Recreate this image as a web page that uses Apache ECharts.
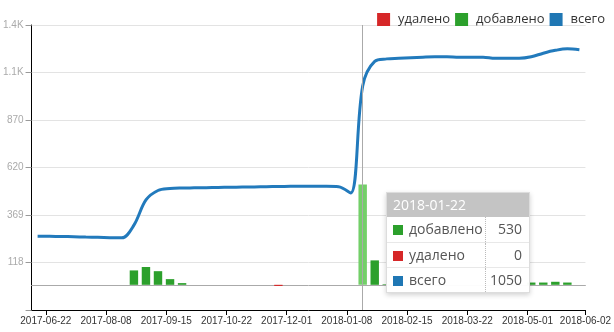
<!DOCTYPE html>
<html>
<head>
<meta charset="utf-8">
<script src="https://cdn.jsdelivr.net/npm/echarts@6/dist/echarts.min.js"></script>
<style>
html,body{margin:0;padding:0;background:#fff;}
#chart{width:614px;height:332px;}
</style>
</head>
<body>
<div id="chart"></div>
<script>
// ---- data ----
const categories = [
  '2017-07-17','2017-07-24','2017-07-31','2017-08-07','2017-08-14','2017-08-21','2017-08-28','2017-09-04',
  '2017-09-11','2017-09-18','2017-09-25','2017-10-02','2017-10-09','2017-10-16','2017-10-23','2017-10-30',
  '2017-11-06','2017-11-13','2017-11-20','2017-11-27','2017-12-04','2017-12-11','2017-12-18','2017-12-25',
  '2018-01-01','2018-01-08','2018-01-15','2018-01-22','2018-01-29','2018-02-05','2018-02-12','2018-02-19',
  '2018-02-26','2018-03-05','2018-03-12','2018-03-19','2018-03-26','2018-04-02','2018-04-09','2018-04-16',
  '2018-04-23','2018-04-30','2018-05-07','2018-05-14','2018-05-21','2018-05-28'
];
const added = [
  0,0,0,0,0,0,0,0,
  76,94,72,30,9,0,0,0,
  0,0,0,0,0,0,0,0,
  0,0,0,530,129,3,0,0,
  0,0,0,0,0,0,0,0,
  0,12,12,16,12,0
];
const removed = [
  0,0,0,0,0,0,0,0,
  0,0,0,0,0,0,0,0,
  0,0,0,0,-6,0,0,0,
  0,0,0,0,0,0,0,0,
  0,0,0,0,0,0,0,0,
  0,0,0,0,0,0
];
const total = [
  257,256,255,254,252,251,249,248,
  315,448,498,508,511,512,513,514,
  515,516,517,518,519,520,521,520,
  520,518,485,1050,1180,1193,1196,1199,
  1202,1204,1204,1202,1202,1202,1196,1196,
  1196,1204,1223,1238,1246,1241
];
const yTickLabels = ['', '118', '369', '620', '870', '1.1K', '1.4K'];
const xTickLabels = ['2017-06-22','2017-08-08','2017-09-15','2017-10-22','2017-12-01',
                     '2018-01-08','2018-02-15','2018-03-22','2018-05-01','2018-06-02'];
const hoverIndex = 27;

// ---- chart ----
const yMin = -133, yStep = 250.8, yMax = yMin + 6 * yStep;
const tMin = -1.186, tMax = 44.814;
const cAdded = '#2ca02c', cAddedHover = '#69bd5f', cRemoved = '#d62728', cTotal = '#1f77b4', cTotalLine = '#1f6fab';

const chart = echarts.init(document.getElementById('chart'), null, {renderer: 'canvas'});
chart.setOption({
  animation: false,
  grid: {left: 31, right: 26, top: 25, bottom: 22, containLabel: false},
  legend: {
    data: [
      {name: 'удалено', itemStyle: {color: cRemoved}},
      {name: 'добавлено', itemStyle: {color: cAdded}},
      {name: 'всего', itemStyle: {color: cTotal}, lineStyle: {opacity: 0}}
    ],
    right: 4, top: 8,
    icon: 'rect', itemWidth: 13, itemHeight: 13, itemGap: 5,
    textStyle: {fontFamily: 'Open Sans', fontSize: 13, color: '#333', padding: [0, 0, 0, 3]},
    selectedMode: false
  },
  tooltip: {
    trigger: 'axis',
    alwaysShowContent: true,
    triggerOn: 'none',
    transitionDuration: 0,
    padding: 0,
    backgroundColor: 'rgba(255,255,255,0.97)',
    borderColor: '#ddd',
    borderWidth: 1,
    extraCssText: 'box-shadow:0 2px 5px rgba(0,0,0,0.18);border-radius:0;',
    textStyle: {fontFamily: 'Open Sans', fontSize: 14, color: '#555'},
    axisPointer: {type: 'line', lineStyle: {color: '#aaa', width: 1, type: 'solid'}},
    position: function () { return [386, 192]; },
    formatter: function (params) {
      const byName = {};
      params.forEach(function (p) { byName[p.seriesName] = p; });
      const rows = [['добавлено', cAdded], ['удалено', cRemoved], ['всего', cTotal]];
      let html = '<div style="width:142px;font-family:Open Sans;">' +
        '<div style="background:#c4c4c4;color:#fff;font-size:14px;height:24px;line-height:24px;padding:0 6px;">' +
        params[0].name + '</div>' +
        '<table style="border-collapse:collapse;width:142px;font-size:14px;color:#555;">';
      rows.forEach(function (r, i) {
        const p = byName[r[0]];
        const v = p ? Math.abs(p.value) : '';
        html += '<tr style="height:25px;' + (i ? 'border-top:1px solid #e8e8e8;' : '') + '">' +
          '<td style="padding:0 0 0 6px;width:92px;border-right:1px dotted #bbb;line-height:24px;">' +
          '<span style="display:inline-block;width:10px;height:10px;background:' + r[1] +
          ';margin-right:6px;vertical-align:-1px;"></span>' + r[0] + '</td>' +
          '<td style="text-align:right;padding:0 7px 0 0;line-height:24px;">' + v + '</td></tr>';
      });
      html += '</table></div>';
      return html;
    }
  },
  xAxis: [
    {
      type: 'value',
      position: 'bottom',
      min: tMin, max: tMax,
      minInterval: 5, maxInterval: 5,
      axisLine: {show: true, onZero: false, lineStyle: {color: '#000', width: 1}},
      axisTick: {show: true, length: 5, lineStyle: {color: '#000'}},
      axisLabel: {
        show: true, showMinLabel: false, showMaxLabel: true, margin: 6,
        fontFamily: 'Liberation Sans', fontSize: 10, color: '#333',
        formatter: function (v) {
          if (Math.abs(v - tMax) < 1e-6) return xTickLabels[xTickLabels.length - 1];
          const k = v / 5;
          if (Math.abs(k - Math.round(k)) < 1e-6) return xTickLabels[Math.round(k)] || '';
          return '';
        }
      },
      splitLine: {show: false},
      axisPointer: {show: false}
    },
    {
      type: 'category',
      position: 'top',
      data: categories,
      boundaryGap: true,
      axisLine: {show: true, onZero: true, lineStyle: {color: '#aaa', width: 1}},
      axisTick: {show: false},
      axisLabel: {show: false},
      splitLine: {show: false}
    }
  ],
  yAxis: {
    type: 'value',
    min: yMin, max: yMax, interval: yStep,
    axisLine: {show: true, onZero: false, lineStyle: {color: '#000', width: 1}},
    axisTick: {show: true, length: 6, lineStyle: {color: '#999'}},
    axisLabel: {
      margin: 8, fontFamily: 'Liberation Sans', fontSize: 10, color: '#aaa',
      formatter: function (v) {
        const k = Math.round((v - yMin) / yStep);
        return yTickLabels[k] || '';
      }
    },
    splitLine: {show: true, lineStyle: {color: '#e3e3e3', width: 1}},
    axisPointer: {show: false}
  },
  series: [
    {
      name: 'добавлено', type: 'bar', xAxisIndex: 1, stack: 'chg', barWidth: '70%',
      data: added, color: cAdded,
      itemStyle: {color: function (p) { return p.dataIndex === hoverIndex ? cAddedHover : cAdded; }}
    },
    {
      name: 'удалено', type: 'bar', xAxisIndex: 1, stack: 'chg', barWidth: '70%',
      data: removed, color: cRemoved,
      itemStyle: {color: cRemoved}
    },
    {
      name: 'всего', type: 'line', xAxisIndex: 1,
      data: total, smooth: 0.35, showSymbol: false, symbol: 'none', color: cTotal,
      lineStyle: {color: cTotalLine, width: 3}, itemStyle: {color: cTotal}, z: 5
    }
  ]
});
chart.dispatchAction({type: 'showTip', seriesIndex: 0, dataIndex: hoverIndex});
</script>
</body>
</html>
